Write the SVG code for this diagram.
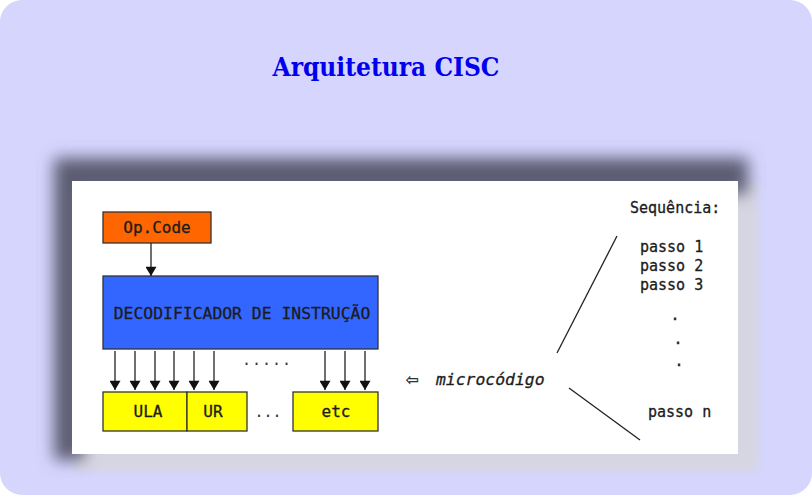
<svg xmlns="http://www.w3.org/2000/svg" width="812" height="495" viewBox="0 0 812 495">
<defs>
<filter id="blur" x="-20%" y="-20%" width="140%" height="140%"><feGaussianBlur stdDeviation="8"/></filter>
<filter id="blur2" x="-20%" y="-20%" width="140%" height="140%"><feGaussianBlur stdDeviation="4"/></filter>
<marker id="ah" viewBox="0 0 10 12" refX="10" refY="6" markerWidth="12" markerHeight="11" markerUnits="userSpaceOnUse" orient="auto"><path d="M0,0 L10,6 L0,12 z" fill="#111"/></marker>
<style>
.box{stroke:#333;stroke-width:1.3}
.mono{font-family:"DejaVu Sans Mono","Liberation Mono",monospace;fill:#1c1c1c;stroke:#1c1c1c;stroke-width:0.3}
.conn line{stroke:#222;stroke-width:1.3;marker-end:url(#ah)}
.dots{font-family:"DejaVu Sans Mono",monospace;fill:#333;font-size:15px}
</style>
</defs>
<rect x="0" y="0" width="812" height="495" fill="#ffffff"/>
<rect x="0" y="0" width="812" height="495" rx="22" fill="#d5d5fe"/>
<text x="386" y="76" text-anchor="middle" font-family="'DejaVu Serif',serif" font-weight="bold" font-size="26" fill="#0000ee" textLength="227" lengthAdjust="spacingAndGlyphs">Arquitetura CISC</text>
<g id="panel">
<rect x="74" y="183" width="684" height="288" fill="#d6d6e2" filter="url(#blur2)"/>
<path d="M54,158 H748 V194 H84 V460 H54 Z" fill="#5c5c72" filter="url(#blur)"/>
<rect x="72" y="181" width="666" height="273" fill="#ffffff"/>
</g>
<g id="opcode">
<rect class="box" x="103" y="212" width="108" height="31" fill="#ff6600"/>
<text class="mono" x="157" y="233" text-anchor="middle" font-size="16">Op.Code</text>
</g>
<g id="decoder">
<rect class="box" x="103" y="276" width="275" height="73" fill="#3366ff"/>
<text class="mono" x="242" y="319" text-anchor="middle" font-size="16.4">DECODIFICADOR DE INSTRUÇÃO</text>
</g>
<g id="ula">
<rect class="box" x="103" y="392" width="84" height="39" fill="#ffff00"/>
<text class="mono" x="148" y="417" text-anchor="middle" font-size="16">ULA</text>
</g>
<g id="ur">
<rect class="box" x="187" y="392" width="60" height="39" fill="#ffff00"/>
<text class="mono" x="213" y="417" text-anchor="middle" font-size="16">UR</text>
</g>
<g id="etc">
<rect class="box" x="293" y="392" width="85" height="39" fill="#ffff00"/>
<text class="mono" x="336" y="417" text-anchor="middle" font-size="16">etc</text>
</g>
<g class="conn" id="connectors">
<line x1="151" y1="243" x2="151" y2="276"/>
<line x1="115" y1="351" x2="115" y2="390"/>
<line x1="135" y1="351" x2="135" y2="390"/>
<line x1="155" y1="351" x2="155" y2="390"/>
<line x1="174" y1="351" x2="174" y2="390"/>
<line x1="194" y1="351" x2="194" y2="390"/>
<line x1="214" y1="351" x2="214" y2="390"/>
<line x1="325" y1="351" x2="325" y2="390"/>
<line x1="345" y1="351" x2="345" y2="390"/>
<line x1="365" y1="351" x2="365" y2="390"/>
</g>
<text class="dots" x="267" y="365" text-anchor="middle" letter-spacing="1">.....</text>
<text class="dots" x="268" y="417" text-anchor="middle">...</text>
<g id="micro">
<text class="mono" x="406" y="386" font-size="21">⇦</text>
<text class="mono" x="436" y="385" font-size="16.4" font-style="italic">microcódigo</text>
</g>
<g id="seq">
<line x1="557" y1="353" x2="617" y2="236" stroke="#222" stroke-width="1.3"/>
<line x1="569" y1="388" x2="640" y2="440" stroke="#222" stroke-width="1.3"/>
<text class="mono" x="630" y="213" font-size="15">Sequência:</text>
<text class="mono" x="640" y="252" font-size="15">passo 1</text>
<text class="mono" x="640" y="271" font-size="15">passo 2</text>
<text class="mono" x="640" y="290" font-size="15">passo 3</text>
<text class="mono" x="675" y="320" font-size="15" text-anchor="middle">.</text>
<text class="mono" x="678" y="344" font-size="15" text-anchor="middle">.</text>
<text class="mono" x="679" y="366" font-size="15" text-anchor="middle">.</text>
<text class="mono" x="648" y="417" font-size="15">passo n</text>
</g>
</svg>
